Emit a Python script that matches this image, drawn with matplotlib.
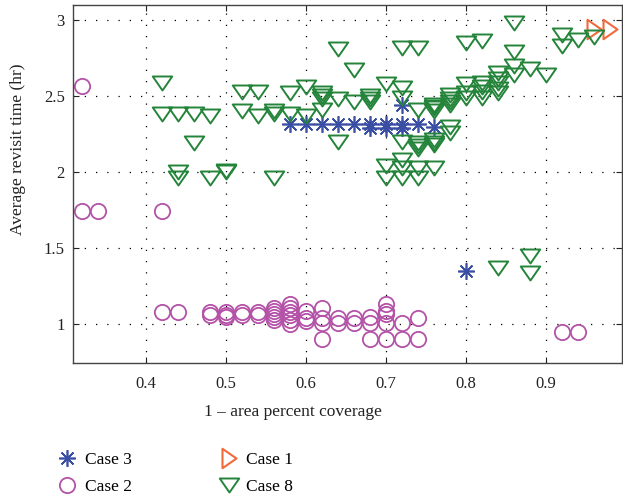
import matplotlib
matplotlib.use("Agg")
import matplotlib.pyplot as plt
from matplotlib.path import Path

plt.rcParams['font.family'] = ['Liberation Serif', 'DejaVu Serif']

# Case 3
case3_x = [0.58, 0.60, 0.62, 0.64, 0.66, 0.68, 0.68, 0.70, 0.70, 0.72, 0.72, 0.72, 0.74, 0.76, 0.80]
case3_y = [2.32, 2.32, 2.32, 2.32, 2.32, 2.32, 2.29, 2.32, 2.29, 2.32, 2.29, 2.44, 2.32, 2.30, 1.35]

# Case 2
case2_x = [0.32, 0.32, 0.34, 0.42, 0.42, 0.44,
           0.48, 0.48, 0.50, 0.50, 0.50, 0.52, 0.52, 0.54, 0.54,
           0.56, 0.56, 0.56, 0.56, 0.56,
           0.58, 0.58, 0.58, 0.58, 0.58, 0.58,
           0.60, 0.60, 0.60, 0.62, 0.62, 0.62, 0.62,
           0.64, 0.64, 0.66, 0.66, 0.68, 0.68, 0.68,
           0.70, 0.70, 0.70, 0.70, 0.70, 0.72, 0.72, 0.74, 0.74,
           0.92, 0.94]
case2_y = [2.57, 1.745, 1.745, 1.745, 1.083, 1.083,
           1.08, 1.06, 1.08, 1.06, 1.05, 1.08, 1.06, 1.08, 1.06,
           1.11, 1.09, 1.07, 1.05, 1.03,
           1.13, 1.11, 1.08, 1.06, 1.03, 1.00,
           1.09, 1.04, 1.02, 1.11, 1.04, 1.01, 0.90,
           1.04, 1.01, 1.04, 1.01, 1.05, 1.01, 0.90,
           1.13, 1.09, 1.07, 1.01, 0.90, 1.01, 0.90, 1.04, 0.90,
           0.95, 0.95]

# Case 1
case1_x = [0.96, 0.98]
case1_y = [2.94, 2.94]

# Case 8
case8_x = [0.42, 0.42, 0.44, 0.44, 0.44, 0.46, 0.46, 0.48, 0.48, 0.50, 0.50,
           0.52, 0.52, 0.54, 0.54, 0.56, 0.56, 0.56, 0.58, 0.58, 0.60, 0.60,
           0.62, 0.62, 0.62, 0.62, 0.64, 0.64, 0.64, 0.66, 0.66,
           0.68, 0.68, 0.68, 0.70, 0.70, 0.70,
           0.72, 0.72, 0.72, 0.72, 0.72, 0.72, 0.72,
           0.74, 0.74, 0.74, 0.74, 0.74, 0.74, 0.74,
           0.76, 0.76, 0.76, 0.76, 0.76, 0.76, 0.76, 0.76,
           0.78, 0.78, 0.78, 0.78, 0.78, 0.78,
           0.80, 0.80, 0.80, 0.80,
           0.82, 0.82, 0.82, 0.82, 0.82,
           0.84, 0.84, 0.84, 0.84, 0.84, 0.84,
           0.86, 0.86, 0.86, 0.86, 0.88, 0.88, 0.88, 0.90,
           0.92, 0.92, 0.94, 0.96]
case8_y = [2.59, 2.38, 2.38, 2.00, 1.965, 2.38, 2.19, 2.37, 1.965, 2.00, 2.01,
           2.53, 2.40, 2.53, 2.37, 2.40, 2.385, 1.965, 2.52, 2.38, 2.56, 2.37,
           2.52, 2.50, 2.48, 2.41, 2.81, 2.48, 2.20, 2.67, 2.46,
           2.50, 2.48, 2.46, 2.58, 2.04, 1.965,
           2.82, 2.555, 2.49, 2.20, 2.08, 2.03, 1.965,
           2.82, 2.41, 2.19, 2.17, 2.15, 2.03, 1.965,
           2.44, 2.43, 2.42, 2.40, 2.21, 2.19, 2.18, 2.03,
           2.51, 2.48, 2.46, 2.44, 2.295, 2.26,
           2.85, 2.58, 2.52, 2.49,
           2.86, 2.59, 2.56, 2.525, 2.49,
           2.655, 2.61, 2.585, 2.55, 2.52, 1.37,
           2.98, 2.79, 2.70, 2.64, 2.68, 1.45, 1.34, 2.64,
           2.90, 2.83, 2.87, 2.89]

x_ticks = [0.4, 0.5, 0.6, 0.7, 0.8, 0.9]
y_ticks = [1, 1.5, 2, 2.5, 3]
y_tick_labels = ['1', '1.5', '2', '2.5', '3']

c_blue = '#3a4fa3'
c_mag = '#b452a8'
c_orange = '#f06a3c'
c_green = '#23843a'

# squat downward / rightward triangles
tri_down = Path([(-1, 0.72), (1, 0.72), (0, -0.72), (-1, 0.72)],
                [Path.MOVETO, Path.LINETO, Path.LINETO, Path.CLOSEPOLY])
tri_right = Path([(-0.72, 1), (-0.72, -1), (0.72, 0), (-0.72, 1)],
                 [Path.MOVETO, Path.LINETO, Path.LINETO, Path.CLOSEPOLY])

fig = plt.figure(figsize=(6.23, 4.97), dpi=100)
ax = fig.add_axes([73 / 623, 1 - 363 / 497, 549 / 623, 358 / 497])

h3, = ax.plot(case3_x, case3_y, linestyle='none', marker=(8, 2, 0), markersize=12,
              markeredgewidth=1.2, color=c_blue, label='Case 3')
h2, = ax.plot(case2_x, case2_y, linestyle='none', marker='o', markersize=11,
              markerfacecolor='none', markeredgewidth=1.3, color=c_mag, label='Case 2')
h1, = ax.plot(case1_x, case1_y, linestyle='none', marker=tri_right, markersize=14,
              markerfacecolor='none', markeredgewidth=1.5, color=c_orange, label='Case 1')
h8, = ax.plot(case8_x, case8_y, linestyle='none', marker=tri_down, markersize=14,
              markerfacecolor='none', markeredgewidth=1.4, color=c_green, label='Case 8')

ax.set_xlim(0.309, 0.995)
ax.set_ylim(0.745, 3.10)
ax.set_xticks(x_ticks)
ax.set_xticklabels([f'{t:.1f}' for t in x_ticks])
ax.set_yticks(y_ticks)
ax.set_yticklabels(y_tick_labels)
ax.grid(True, color='black', linestyle=(0, (1, 8)), linewidth=0.9)
ax.tick_params(direction='in', length=4, width=0.8, top=True, right=True,
               labelsize=12, colors='#222222')
ax.tick_params(axis='x', pad=9)
ax.tick_params(axis='y', pad=6)
for s in ax.spines.values():
    s.set_color('#444444')
    s.set_linewidth(1.0)

fig.text(293 / 623, 1 - 412 / 497, '1 \u2013 area percent coverage', ha='center', va='center',
         fontsize=12.5, color='#222222')
fig.text(18 / 623, 1 - 149 / 497, 'Average revisit time (hr)', ha='center', va='center',
         rotation=90, fontsize=12.5, color='#222222')

fig.legend(handles=[h3, h2, h1, h8], ncol=2, loc='upper left',
           bbox_to_anchor=(57 / 623, 1 - 452 / 497), frameon=False,
           fontsize=12.5, handlelength=1.2, handletextpad=0.4,
           columnspacing=5.0, labelspacing=0.62, borderaxespad=0,
           borderpad=0)

fig.savefig('out.png', dpi=100)
